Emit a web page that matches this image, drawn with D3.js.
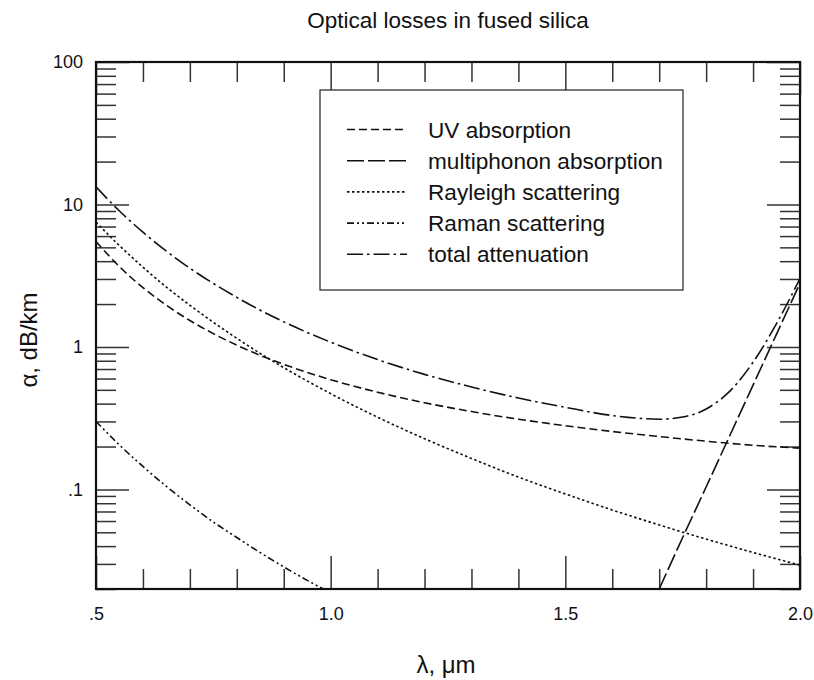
<!DOCTYPE html>
<html>
<head>
<meta charset="utf-8">
<script src="https://cdn.jsdelivr.net/npm/d3@7/dist/d3.min.js"></script>
<style>
  html, body { margin: 0; padding: 0; background: #fff; }
  svg { display: block; font-family: "Liberation Sans", Arial, Helvetica, sans-serif; }
</style>
</head>
<body>
<svg id="chart" width="814" height="680"></svg>
<script>
// ---------- data ----------
const title = "Optical losses in fused silica";
const xLabel = "λ, μm";
const yLabel = "α, dB/km";

const xTickLabels = [[0.5, ".5"], [1.0, "1.0"], [1.5, "1.5"], [2.0, "2.0"]];
const yTickLabels = [[100, "100"], [10, "10"], [1, "1"], [0.1, ".1"]];

const seriesNames = ["UV absorption", "multiphonon absorption", "Rayleigh scattering", "Raman scattering", "total attenuation"];

const uvLambda = [0.5, 0.55, 0.6, 0.65, 0.7, 0.75, 0.8, 0.85, 0.9, 1.0, 1.1, 1.2, 1.3, 1.4, 1.5, 1.6, 1.7, 1.8, 1.9, 2.0];
const uvValues = [5.5, 3.66, 2.61, 1.96, 1.534, 1.24, 1.03, 0.873, 0.755, 0.589, 0.481, 0.406, 0.352, 0.311, 0.28, 0.255, 0.235, 0.218, 0.204, 0.195];

const multiLambda = [1.7, 1.75, 1.8, 1.85, 1.9, 1.95, 2.0];
const multiValues = [0.02, 0.046, 0.104, 0.237, 0.54, 1.23, 2.8];

const rayLambda = [0.5, 0.55, 0.6, 0.65, 0.7, 0.75, 0.8, 0.85, 0.9, 1.0, 1.1, 1.2, 1.3, 1.4, 1.5, 1.6, 1.7, 1.8, 1.9, 2.0];
const rayValues = [7.52, 5.14, 3.63, 2.63, 1.96, 1.49, 1.15, 0.90, 0.716, 0.47, 0.321, 0.227, 0.165, 0.122, 0.093, 0.0717, 0.0563, 0.0448, 0.0361, 0.0294];

const ramanLambda = [0.5, 0.55, 0.6, 0.65, 0.7, 0.75, 0.8, 0.85, 0.9, 0.95, 1.0];
const ramanValues = [0.3, 0.205, 0.145, 0.105, 0.078, 0.059, 0.046, 0.036, 0.0286, 0.023, 0.0188];

const totalLambda = [0.5, 0.55, 0.6, 0.65, 0.7, 0.75, 0.8, 0.85, 0.9, 1.0, 1.1, 1.2, 1.3, 1.4, 1.5, 1.6, 1.65, 1.7, 1.75, 1.8, 1.85, 1.9, 1.95, 2.0];
const totalValues = [13.3, 9.0, 6.39, 4.7, 3.57, 2.79, 2.23, 1.81, 1.5, 1.08, 0.815, 0.642, 0.524, 0.438, 0.377, 0.33, 0.317, 0.311, 0.322, 0.367, 0.488, 0.78, 1.46, 3.02];

// ---------- layout ----------
const svg = d3.select("#chart");
const pLeft = 96, pRight = 800, pTop = 62, pBottom = 589;

const x = d3.scaleLinear().domain([0.5, 2.0]).range([pLeft, pRight]);
const y = d3.scaleLog().domain([0.02, 100]).range([pBottom, pTop]);

// minor / major tick values
const xMajor = xTickLabels.map(d => d[0]);
const xMinor = d3.range(6, 20).map(d => d / 10).filter(v => !xMajor.some(m => Math.abs(m - v) < 1e-9));
const yMajor = [0.1, 1, 10, 100];
const yMinor = [];
[0.01, 0.1, 1, 10].forEach(dec => { for (let k = 2; k <= 9; k++) { const v = dec * k; if (v >= 0.02 - 1e-12 && v <= 100) yMinor.push(v); } });

const tickColor = "#333";
function styleAxis(g) {
  g.select(".domain").remove();
  g.selectAll(".tick line").attr("stroke", tickColor).attr("stroke-width", 1.5);
}

// ---------- curves setup ----------
const defs = svg.append("defs");
defs.append("clipPath").attr("id", "plotclip").append("rect")
  .attr("x", pLeft).attr("y", pTop).attr("width", pRight - pLeft).attr("height", pBottom - pTop);

const dashes = ["8,4", "17,4", "2.5,2.5", "7,3,2,3,2,3", "16,4,2.5,4"];
const seriesData = [
  d3.zip(uvLambda, uvValues),
  d3.zip(multiLambda, multiValues),
  d3.zip(rayLambda, rayValues),
  d3.zip(ramanLambda, ramanValues),
  d3.zip(totalLambda, totalValues)
];

const line = d3.line()
  .x(d => x(d[0]))
  .y(d => y(d[1]))
  .curve(d3.curveMonotoneX);

// ---------- axes (ticks inward on all four sides) ----------
const labelFont = "Liberation Sans, Arial, sans-serif";
svg.append("g").attr("transform", `translate(${pLeft},0)`)
  .call(d3.axisLeft(y).tickValues(yMinor).tickSize(-20).tickFormat(""))
  .call(styleAxis);
svg.append("g").attr("transform", `translate(${pLeft},0)`)
  .call(d3.axisLeft(y).tickValues(yMajor).tickSize(-33).tickPadding(13)
    .tickFormat(v => (yTickLabels.find(d => Math.abs(d[0] - v) < 1e-9) || [0, ""])[1]))
  .call(styleAxis)
  .call(g => g.selectAll("text").attr("font-size", 18).attr("fill", "#111").attr("font-family", labelFont));

svg.append("g").attr("transform", `translate(${pRight},0)`)
  .call(d3.axisRight(y).tickValues(yMinor).tickSize(-20).tickFormat(""))
  .call(styleAxis);
svg.append("g").attr("transform", `translate(${pRight},0)`)
  .call(d3.axisRight(y).tickValues(yMajor).tickSize(-33).tickFormat(""))
  .call(styleAxis);

svg.append("g").attr("transform", `translate(0,${pBottom})`)
  .call(d3.axisBottom(x).tickValues(xMinor).tickSize(-20).tickFormat(""))
  .call(styleAxis);
svg.append("g").attr("transform", `translate(0,${pBottom})`)
  .call(d3.axisBottom(x).tickValues(xMajor).tickSize(-33).tickPadding(18)
    .tickFormat(v => (xTickLabels.find(d => Math.abs(d[0] - v) < 1e-9) || [0, ""])[1]))
  .call(styleAxis)
  .call(g => g.selectAll("text").attr("font-size", 18).attr("fill", "#111").attr("font-family", labelFont));

svg.append("g").attr("transform", `translate(0,${pTop})`)
  .call(d3.axisTop(x).tickValues(xMinor).tickSize(-20).tickFormat(""))
  .call(styleAxis);
svg.append("g").attr("transform", `translate(0,${pTop})`)
  .call(d3.axisTop(x).tickValues(xMajor).tickSize(-33).tickFormat(""))
  .call(styleAxis);

// curves
const curves = svg.append("g").attr("clip-path", "url(#plotclip)");
seriesData.forEach((data, i) => {
  curves.append("path")
    .datum(data)
    .attr("d", line)
    .attr("fill", "none")
    .attr("stroke", "#111")
    .attr("stroke-width", 1.6)
    .attr("stroke-dasharray", dashes[i]);
});

// frame
svg.append("rect")
  .attr("x", pLeft).attr("y", pTop).attr("width", pRight - pLeft).attr("height", pBottom - pTop)
  .attr("fill", "none").attr("stroke", "#111").attr("stroke-width", 2.2);

// ---------- legend ----------
const lg = svg.append("g");
lg.append("rect")
  .attr("x", 320).attr("y", 90).attr("width", 363).attr("height", 200)
  .attr("fill", "#fff").attr("stroke", "#222").attr("stroke-width", 1.2);
seriesNames.forEach((name, i) => {
  const cy = 129.5 + i * 31.2;
  lg.append("line")
    .attr("x1", 347).attr("x2", 407).attr("y1", cy).attr("y2", cy)
    .attr("stroke", "#111").attr("stroke-width", 1.6)
    .attr("stroke-dasharray", dashes[i]);
  lg.append("text")
    .attr("x", 428).attr("y", cy).attr("dy", "0.36em")
    .attr("font-size", 22.6).attr("fill", "#111")
    .text(name);
});

// ---------- titles ----------
svg.append("text")
  .attr("x", (pLeft + pRight) / 2).attr("y", 28)
  .attr("text-anchor", "middle").attr("font-size", 22.5).attr("fill", "#111")
  .text(title);

svg.append("text")
  .attr("x", 446).attr("y", 673)
  .attr("text-anchor", "middle").attr("font-size", 24).attr("fill", "#111")
  .text(xLabel);

svg.append("text")
  .attr("transform", "translate(37,340) rotate(-90)")
  .attr("text-anchor", "middle").attr("font-size", 24).attr("fill", "#111")
  .text(yLabel);
</script>
</body>
</html>
